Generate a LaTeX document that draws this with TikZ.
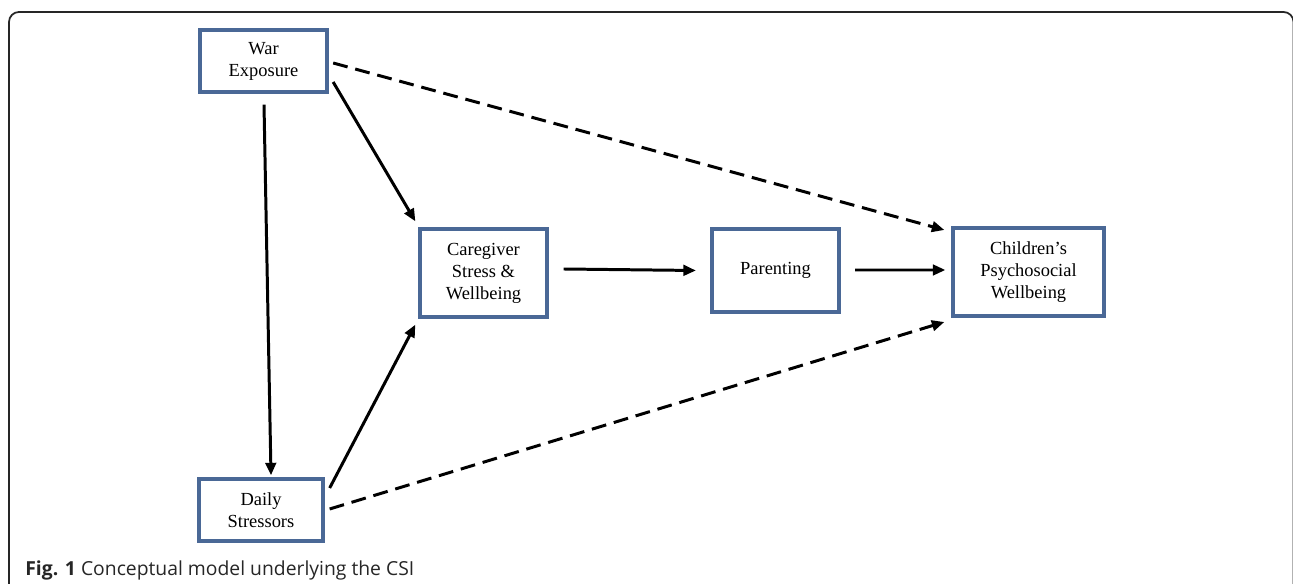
\documentclass[tikz,border=0pt]{standalone}
\usepackage{fontspec}
\setmainfont{Liberation Serif}
\newfontfamily\capfont{Open Sans}
\usetikzlibrary{arrows.meta,calc}
\definecolor{boxblue}{RGB}{74,104,150}

\begin{document}
\begin{tikzpicture}[x=0.02cm,y=0.02cm,
		box/.style={draw=boxblue,line width=1.9pt,inner sep=0pt,align=center,
			font=\fontsize{10.5}{12.5}\selectfont},
		pfeil/.style={line width=1.7pt,-{Triangle[length=0.25cm,width=0.21cm]}},
		strich/.style={pfeil,dash pattern=on 8.5pt off 4.5pt}]
				% Rahmen: 1293 x 584 Pixel
				\useasboundingbox (0,0) rectangle (1293,584);
				\clip (0,0) rectangle (1293,584);
				\draw[line width=1pt,black!85,rounded corners=0.2cm] (9,-20) |- (1293.5,572) -- (1293.5,-20);
				% Kaesten
				\node[box,minimum width=2.54cm,minimum height=1.24cm] (war) at (263.5,523) {War\\Exposure};
				\node[box,minimum width=2.54cm,minimum height=1.76cm] (care) at (483.5,311) {Caregiver\\Stress \&\\Wellbeing};
				\node[box,minimum width=2.54cm,minimum height=1.66cm,line width=2.4pt] (par) at (775.5,313.5) {Parenting};
				\node[box,minimum width=3.02cm,minimum height=1.76cm] (child) at (1028.5,312) {Children’s\\Psychosocial\\Wellbeing};
				\node[box,minimum width=2.48cm,minimum height=1.24cm] (daily) at (261,74) {Daily\\Stressors};
				% Pfeile
				\draw[pfeil] ($(war.east)+(4.5,-21)$) -- ($(care.north west)+(-3,6)$);
				\draw[pfeil] ($(war.south)+(0.5,-11)$) -- ($(daily.north)+(10,2)$);
				\draw[pfeil] ($(daily.east)+(5,22)$) -- ($(care.south west)+(-3,-6)$);
				\draw[pfeil] ($(care.east)+(15,4)$) -- ($(par.west)+(-14,0)$);
				\draw[pfeil] ($(par.east)+(14,0.5)$) -- ($(child.west)+(-6,2)$);
				\draw[strich] ($(war.east)+(4.5,-2)$) -- ($(child.west)+(-7,42)$);
				\draw[strich] ($(daily.east)+(5,1)$) -- ($(child.west)+(-7,-50)$);
				% Bildunterschrift
				\node[anchor=base west,inner sep=0pt,font=\capfont\fontsize{11}{13}\selectfont,text=black!85] (cap) at (25,9) {\textbf{Fig. 1} Conceptual model underlying the CSI};
			\end{tikzpicture}
\end{document}
